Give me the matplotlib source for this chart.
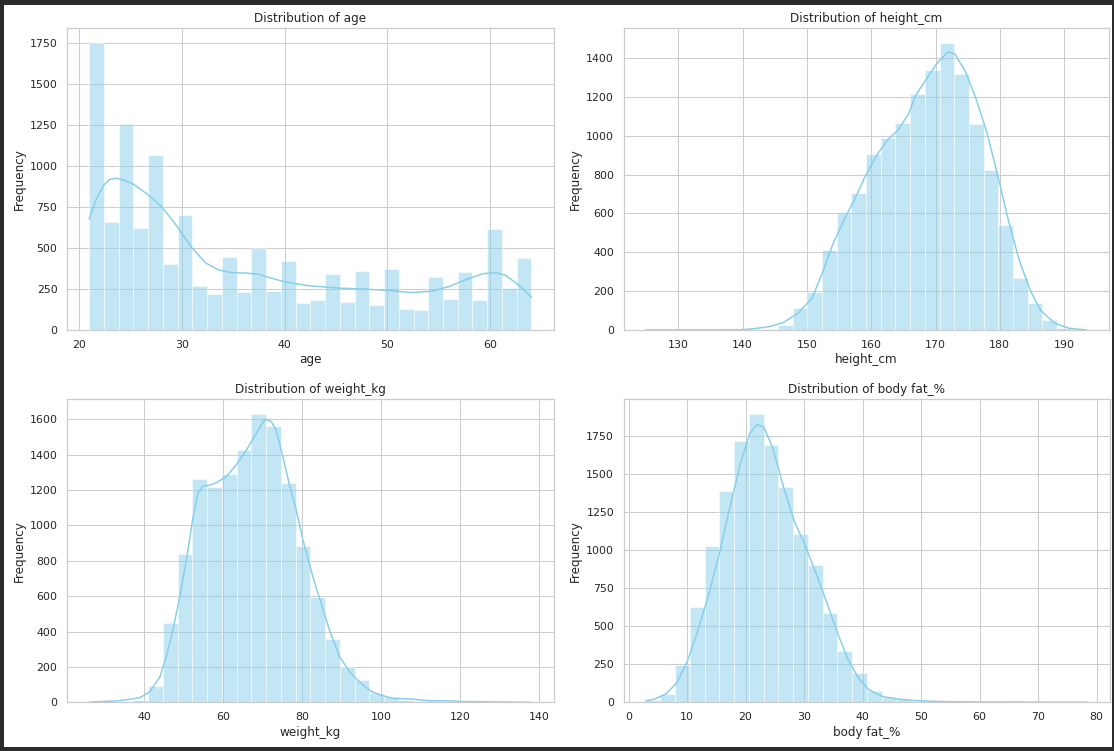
import matplotlib
matplotlib.use('Agg')
import matplotlib.pyplot as plt
from matplotlib.patches import Rectangle
import numpy as np
import seaborn as sns

# histogram counts (30 bins each) and kde curves
age_range = (21, 64)
age_counts = [1750, 659, 1255, 620, 1065, 400, 700, 265, 220, 445,
              230, 502, 235, 418, 167, 184, 343, 169, 357, 150,
              369, 128, 122, 324, 188, 351, 182, 614, 257, 437]
age_kde_x = [21.0, 21.7, 22.4, 23.0, 23.7, 24.3, 25.3, 26.6, 28.0, 29.2,
             30.0, 31.0, 32.3, 33.6, 34.9, 36.2, 37.5, 38.8, 40.1, 42.4,
             43.3, 45.3, 47.9, 50.0, 52.4, 54.4, 56.0, 57.6, 59.3, 60.6,
             61.5, 62.8, 64.0]
age_kde_y = [675, 798, 880, 917, 924, 915, 888, 830, 755, 660,
             590, 500, 410, 365, 349, 347, 339, 314, 292, 269,
             265, 255, 249, 241, 228, 237, 265, 306, 343, 349,
             333, 271, 200]

height_range = (124.9, 193.5)
height_counts = [0, 0, 0, 0, 0, 0, 1, 2, 5, 26,
                 112, 197, 414, 607, 707, 907, 986, 1065, 1215, 1336,
                 1479, 1319, 1060, 824, 538, 266, 138, 52, 12, 2]
height_kde_x = [124.9, 139.7, 141.9, 144.1, 146.3, 148.6, 150.8, 152.4, 154.1, 155.8,
                157.4, 159.1, 160.8, 162.4, 164.1, 165.8, 166.9, 168.6, 170.2, 171.9,
                173.0, 174.7, 176.3, 178.0, 179.7, 181.3, 183.0, 184.7, 186.3, 188.6,
                190.8, 193.5]
height_kde_y = [0, 1, 7, 17, 38, 86, 164, 293, 448, 569,
                672, 793, 896, 974, 1026, 1112, 1207, 1293, 1371, 1431,
                1422, 1327, 1190, 1017, 793, 569, 362, 207, 103, 34,
                9, 0]

weight_range = (26.1, 138.0)
weight_counts = [0, 1, 3, 12, 95, 447, 837, 1263, 1215, 1291,
                 1427, 1632, 1562, 1240, 884, 596, 358, 201, 127, 53,
                 32, 13, 8, 5, 3, 2, 1, 1, 0, 1]
weight_kde_x = [26.1, 33.3, 36.4, 38.9, 41.4, 44.0, 45.6, 47.3, 49.0, 50.7,
                52.4, 53.6, 54.9, 56.6, 58.3, 60.8, 63.3, 65.9, 68.4, 70.1,
                70.9, 72.2, 73.4, 75.1, 76.8, 78.5, 80.2, 82.7, 85.2, 86.9,
                89.4, 92.1, 94.8, 97.5, 100.2, 102.9, 107.4, 112.0, 117.4, 121.0,
                130.0, 138.0]
weight_kde_y = [1, 8, 17, 26, 58, 143, 257, 408, 596, 804,
                1049, 1181, 1223, 1228, 1242, 1276, 1342, 1427, 1521, 1587,
                1600, 1587, 1540, 1389, 1228, 1087, 917, 710, 530, 408,
                260, 168, 108, 61, 38, 23, 19, 9, 8, 4,
                2, 0]

fat_range = (2.93, 78.5)
fat_counts = [12, 55, 246, 624, 1029, 1389, 1719, 1895, 1692, 1411,
              1103, 899, 589, 338, 193, 75, 37, 20, 8, 4,
              2, 1, 1, 0, 0, 0, 0, 0, 0, 1]
fat_kde_x = [2.93, 4.5, 6.3, 8.2, 10.0, 11.8, 13.7, 15.5, 17.3, 19.1,
             20.7, 21.9, 23.1, 24.6, 26.5, 28.3, 30.1, 31.9, 33.8, 35.6,
             37.4, 39.3, 41.1, 43.5, 46.0, 48.4, 51.5, 54.5, 60.6, 78.5]
fat_kde_y = [9, 22, 53, 125, 264, 466, 708, 972, 1279, 1565,
             1763, 1824, 1807, 1675, 1411, 1191, 1037, 862, 664, 466,
             290, 158, 81, 37, 22, 13, 7, 4, 2, 0]

columns = ["age", "height_cm", "weight_kg", "body fat_%"]

sns.set_theme(style="whitegrid")

W, H = 1114, 751
fig = plt.figure(figsize=(W / 72, H / 72), dpi=72)

# axes boxes in pixels: left, right, top, bottom
boxes = [(67, 553.6, 28.3, 330), (623.6, 1108.6, 28.3, 330),
         (67, 553.6, 399.3, 702.3), (623.6, 1110, 399.3, 702.3)]

panels = [(age_range, age_counts, age_kde_x, age_kde_y),
          (height_range, height_counts, height_kde_x, height_kde_y),
          (weight_range, weight_counts, weight_kde_x, weight_kde_y),
          (fat_range, fat_counts, fat_kde_x, fat_kde_y)]

for col, box, (rng, counts, kx, ky) in zip(columns, boxes, panels):
    l, r, t, b = box
    ax = fig.add_axes([l / W, (H - b) / H, (r - l) / W, (b - t) / H])
    edges = np.linspace(rng[0], rng[1], len(counts) + 1)
    ax.bar(edges[:-1], counts, width=np.diff(edges), align='edge',
           color='skyblue', alpha=0.5, edgecolor='white', linewidth=1)
    ax.plot(kx, ky, color='skyblue', linewidth=1.5)
    ax.set_ylim(0, max(counts) * 1.05)
    ax.set_title(f"Distribution of {col}")
    ax.set_xlabel(col)
    ax.set_ylabel("Frequency")

# dark screenshot frame around the figure
frame = dict(transform=fig.transFigure, color='#2b2b2b', zorder=10)
fig.patches.extend([
    Rectangle((0, 1 - 4 / H), 1, 4 / H, **frame),
    Rectangle((0, 0), 1, 4 / H, **frame),
    Rectangle((0, 0), 3 / W, 1, **frame),
    Rectangle((1 - 2 / W, 0), 2 / W, 1, **frame),
])

fig.savefig("out.png", dpi=72)
